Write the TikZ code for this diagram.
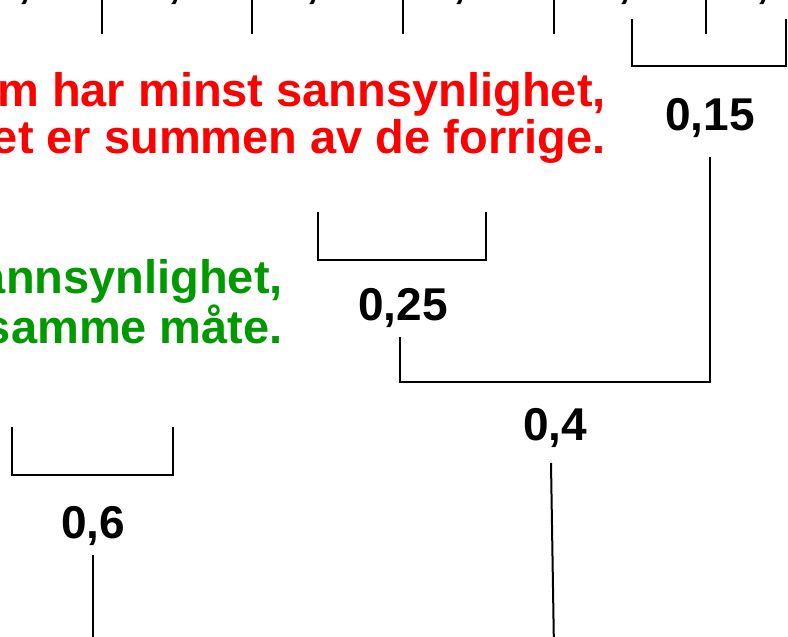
\documentclass[tikz,border=0pt]{standalone}
\usepackage{fontspec}
\setmainfont{Liberation Sans}
\usetikzlibrary{positioning,calc}
\definecolor{notered}{RGB}{255,0,0}
\definecolor{notegreen}{RGB}{0,153,0}

\begin{document}
\begin{tikzpicture}[
  x=1pt, y=-1pt,
  prob/.style={font=\fontsize{46}{50}\selectfont\bfseries, inner sep=0pt, anchor=base},
  note/.style={font=\fontsize{47}{47}\selectfont\bfseries, inner sep=0pt, align=right, anchor=base east},
  wire/.style={line width=2pt}
]
\useasboundingbox (0,0) rectangle (788,637);
\clip (0,0) rectangle (788,637);
\node[prob] (p1) at (25,-2) {0,3};
\node[prob] (p2) at (175,-2) {0,3};
\node[prob] (p3) at (326,-2) {0,15};
\node[prob] (p4) at (460,-2) {0,1};
\node[prob] (p5) at (625,-2) {0,1};
\node[prob] (p6) at (776,-2) {0,05};
\foreach \x in {102,252,403,554,706}
  \draw[wire] (\x,-10) -- (\x,34);
\node[note, text=notered] (rednote) at (606,153) {m har minst sannsynlighet,\\et er summen av de forrige.};
\node[note, text=notegreen] (greennote) at (283,343) {annsynlighet,\\samme m\aa te.};
\node[prob] (l15) at (710,130) {0,15};
\node[prob] (l25) at (403,320) {0,25};
\node[prob] (l4) at (555,440) {0,4};
\node[prob] (l6) at (93,538) {0,6};
\coordinate (b15a) at (632,19);
\coordinate (b15b) at (786,19);
\coordinate (b25a) at (318,212);
\coordinate (b25b) at (486,212);
\coordinate (b6a) at (12,427);
\coordinate (b6b) at (173,427);
\coordinate (j4) at (555,382);
\coordinate (r4) at (554,650);
\coordinate (r6) at (93,650);
\draw[wire] (b15a) -- ++(0,47) -| (b15b);
\draw[wire] (b25a) -- ++(0,48) -| (b25b);
\draw[wire] (b6a) -- ++(0,48) -| (b6b);
\draw[wire] ([yshift=-27pt]l15.base) |- (j4) -| ([xshift=-3pt,yshift=-17pt]l25.base);
\draw[wire] ([xshift=-4pt,yshift=-23pt]l4.base) -- (r4);
\draw[wire] ([yshift=-17pt]l6.base) -- (r6);
\end{tikzpicture}
\end{document}
